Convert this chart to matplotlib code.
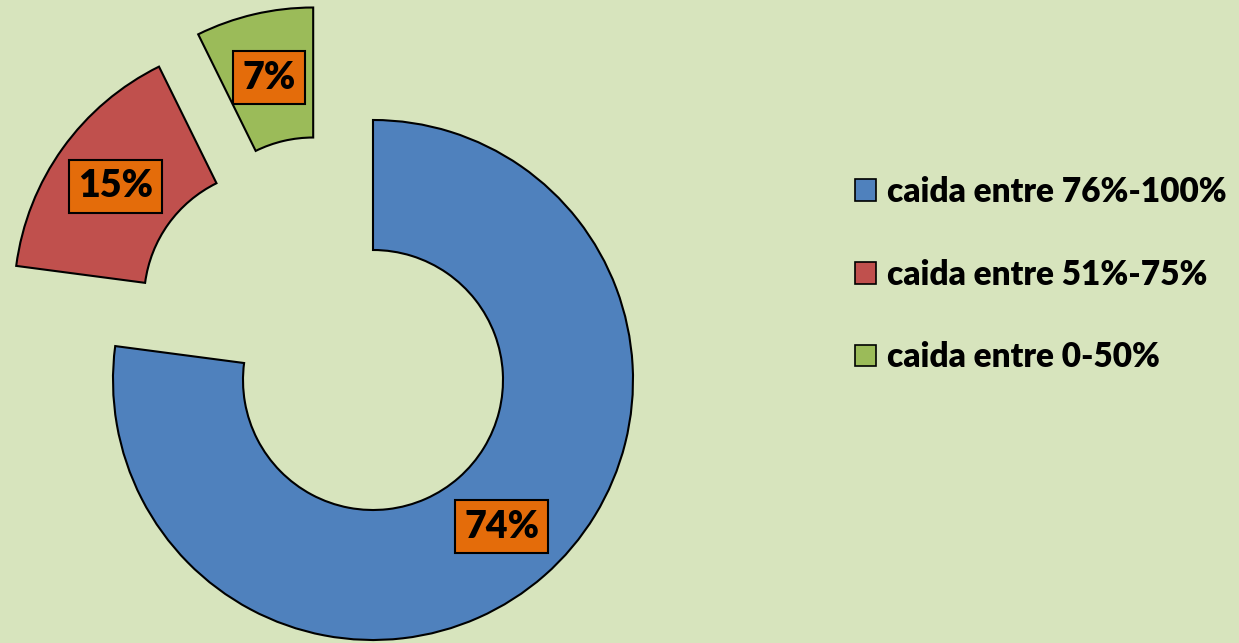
import math

import matplotlib as mat
mat.use('agg')
import matplotlib.pyplot as plt
from matplotlib.patches import Patch

# data
categories = ['caida entre 76%-100%', 'caida entre 51%-75%', 'caida entre 0-50%']
values = [74, 15, 7]
labels_pct = ['74%', '15%', '7%']
colors = ['#4F81BD', '#C0504D', '#9BBB59']

# explosion of each slice: distance (in radii) and direction (degrees)
explode_dist = [0, 0.49, 0.49]
explode_dir = [0, 141, 118]

BG = '#D7E4BD'
ORANGE = '#E46C0A'

plt.rcParams['font.family'] = ['Lato', 'DejaVu Sans']

fig = plt.figure(figsize=(12.39, 6.43), dpi=100)
fig.patch.set_facecolor(BG)

# donut axes: 1 data unit = 260 px, center at (373, 380) px from top-left
ax = fig.add_axes([0, 0, 746 / 1239, 1])
ax.set_facecolor(BG)

wedges, texts, autotexts = ax.pie(
    values, colors=colors, startangle=90, counterclock=False,
    radius=1.0, pctdistance=0.75, autopct='%1.0f%%',
    wedgeprops=dict(width=0.5, edgecolor='black', linewidth=1.5),
)
for w, t, lab, d, a in zip(wedges, autotexts, labels_pct, explode_dist, explode_dir):
    cx = d * math.cos(math.radians(a))
    cy = d * math.sin(math.radians(a))
    w.set_center((cx, cy))
    mid = math.radians((w.theta1 + w.theta2) / 2)
    t.set_position((cx + 0.75 * math.cos(mid), cy + 0.75 * math.sin(mid)))
    t.set_text(lab)
    t.set_fontsize(27)
    t.set_fontweight('heavy')
    t.set_color('black')
    t.set_bbox(dict(boxstyle='square,pad=0.25', facecolor=ORANGE,
                    edgecolor='black', linewidth=1.5))

ax.set_aspect('auto')
ax.set_xlim(-373 / 260, 373 / 260)
ax.set_ylim(-263 / 260, 380 / 260)
ax.axis('off')

handles = [Patch(facecolor=c, edgecolor='black', linewidth=1.2) for c in colors]
leg = fig.legend(handles, categories, loc='center left',
                 bbox_to_anchor=(855 / 1239, 0.573), frameon=False,
                 prop={'family': ['Lato', 'DejaVu Sans'], 'weight': 'heavy', 'size': 24},
                 handlelength=0.63, handleheight=0.63, handletextpad=0.33,
                 labelspacing=1.52, borderpad=0, borderaxespad=0)

fig.savefig('out.png', dpi=100, facecolor=BG)
